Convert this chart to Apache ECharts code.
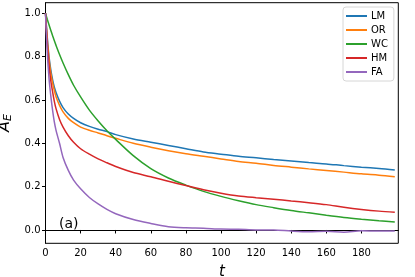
<!DOCTYPE html>
<html>
<head>
<meta charset="utf-8">
<script src="https://cdn.jsdelivr.net/npm/echarts@6/dist/echarts.min.js"></script>
<style>html,body{margin:0;padding:0;background:#fff}#c{width:415px;height:277px}</style>
</head>
<body>
<div id="c"></div>
<script>
const tValues = [0,1,2,3,4,5,6,8,10,13,16,20,25,30,35,40,50,60,70,80,90,100,110,120,130,140,150,160,170,180,190,199];
const seriesNames = ['LM','OR','WC','HM','FA'];
const LM = [1.0,0.89,0.80,0.74,0.695,0.66,0.635,0.595,0.565,0.535,0.515,0.495,0.478,0.465,0.454,0.44,0.42,0.405,0.39,0.375,0.36,0.35,0.34,0.333,0.325,0.318,0.311,0.305,0.297,0.29,0.284,0.277];
const OR = [1.0,0.88,0.79,0.725,0.68,0.645,0.615,0.575,0.545,0.515,0.495,0.475,0.46,0.448,0.435,0.423,0.40,0.382,0.366,0.352,0.34,0.328,0.316,0.308,0.298,0.29,0.282,0.275,0.267,0.259,0.253,0.246];
const WC = [1.0,0.973,0.947,0.922,0.898,0.874,0.852,0.81,0.771,0.717,0.668,0.614,0.553,0.503,0.458,0.418,0.343,0.283,0.24,0.207,0.178,0.155,0.135,0.117,0.103,0.09,0.079,0.068,0.058,0.05,0.043,0.037];
const HM = [1.0,0.86,0.76,0.69,0.64,0.595,0.56,0.51,0.475,0.435,0.405,0.375,0.35,0.328,0.31,0.293,0.265,0.246,0.225,0.205,0.186,0.17,0.157,0.149,0.142,0.134,0.126,0.117,0.105,0.095,0.087,0.082];
const FA = [1.0,0.82,0.70,0.62,0.555,0.50,0.46,0.40,0.335,0.275,0.23,0.19,0.15,0.12,0.095,0.075,0.048,0.03,0.015,0.01,0.008,0.004,0.003,0.0,0.0,-0.005,-0.008,-0.006,-0.01,-0.004,-0.005,-0.005];
const xTicks = [0,20,40,60,80,100,120,140,160,180];
const yTicks = [0,0.2,0.4,0.6,0.8,1.0];

const colors = ['#1f77b4','#ff7f0e','#2ca02c','#d62728','#9467bd'];
const allValues = [LM, OR, WC, HM, FA];
const chart = echarts.init(document.getElementById('c'), null, {renderer:'canvas'});
const font = 'DejaVu Sans';
chart.setOption({
  animation: false,
  color: colors,
  grid: {left: 45.5, right: 16.7, top: 2.7, bottom: 33.7, show: true, borderColor: '#000', borderWidth: 1, containLabel: false, outerBoundsMode: 'none'},
  legend: {
    orient: 'vertical', left: 343, top: 7,
    data: seriesNames,
    icon: 'rect', itemWidth: 21, itemHeight: 2, itemGap: 2,
    padding: [3, 6, 3, 3],
    borderColor: '#d6d6d6', borderWidth: 1, borderRadius: 3, backgroundColor: 'rgba(255,255,255,0.8)',
    textStyle: {fontFamily: font, fontSize: 10, color: '#000', lineHeight: 12, padding: [0,0,0,-1]}
  },
  xAxis: {
    type: 'value', min: 0, max: 201,
    name: 't', nameLocation: 'middle', nameGap: 21,
    nameTextStyle: {fontFamily: font, fontStyle: 'italic', fontSize: 15, color: '#000'},
    axisLine: {show: true, lineStyle: {color: '#000', width: 1}},
    axisTick: {show: true, length: 3.5, lineStyle: {color: '#000'}, customValues: xTicks},
    axisLabel: {fontFamily: font, fontSize: 10, color: '#000', margin: 5, customValues: xTicks},
    splitLine: {show: false}
  },
  yAxis: {
    type: 'value', min: -0.0615, max: 1.049,
    name: '{a|A}{e|E}', nameLocation: 'middle', nameGap: 24, nameRotate: 90,
    nameTextStyle: {color: '#000', rich: {
      a: {fontFamily: font, fontStyle: 'italic', fontSize: 16, color: '#000'},
      e: {fontFamily: font, fontStyle: 'italic', fontSize: 11, color: '#000', verticalAlign: 'bottom', padding: [7,0,0,0]}
    }},
    axisLine: {show: true, onZero: false, lineStyle: {color: '#000', width: 1}},
    axisTick: {show: true, length: 3.5, lineStyle: {color: '#000'}, customValues: yTicks},
    axisLabel: {fontFamily: font, fontSize: 10, color: '#000', margin: 5, customValues: yTicks, formatter: v => v.toFixed(1)},
    splitLine: {show: false}
  },
  graphic: [{type: 'text', left: 59, top: 217, style: {text: '(a)', fontFamily: font, fontSize: 14, fill: '#000'}}],
  series: seriesNames.map((n, i) => ({
    name: n, type: 'line', showSymbol: false, smooth: 0.3,
    lineStyle: {width: 1.5, color: colors[i]},
    data: tValues.map((t, j) => [t, allValues[i][j]])
  }))
});
</script>
</body>
</html>
